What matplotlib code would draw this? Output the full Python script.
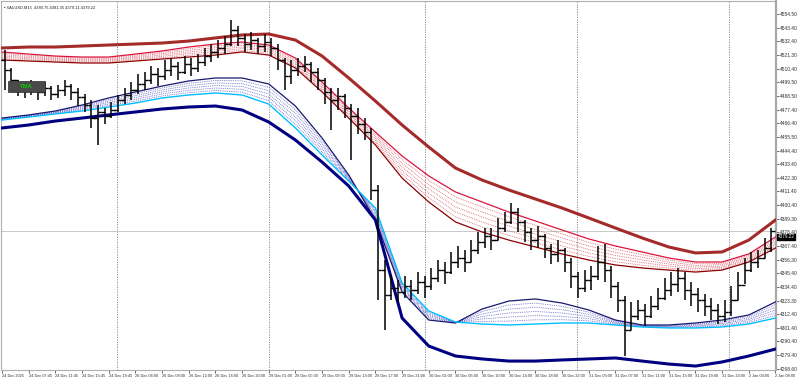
import matplotlib
matplotlib.use("Agg")
import matplotlib.pyplot as plt
import matplotlib.transforms as mtrans
from matplotlib.patches import Rectangle

title = "XAUUSD,M15  4380.75 4381.35 4379.11 4379.22"
last_price = 4379.22

# hourly bars (open = previous close)
first_open = 4517.4
closes = [4509.3, 4501.3, 4494.8, 4493.2, 4496.4, 4491.6, 4494.8, 4490.0, 4493.2, 4496.4,
          4491.6, 4487.6, 4481.1, 4470.6, 4475.5, 4472.2, 4477.1, 4485.2, 4489.2, 4493.2,
          4498.1, 4501.3, 4506.1, 4504.5, 4509.3, 4512.6, 4507.7, 4514.2, 4511.0, 4515.8,
          4520.6, 4523.9, 4527.1, 4530.3, 4541.6, 4535.2, 4530.3, 4533.5, 4528.7, 4531.9,
          4527.1, 4517.4, 4504.5, 4509.3, 4512.6, 4514.2, 4507.7, 4501.3, 4491.6, 4485.2,
          4488.4, 4478.7, 4472.2, 4465.8, 4459.3, 4412.6, 4348.0, 4327.9, 4333.5, 4330.3,
          4335.1, 4331.9, 4338.4, 4335.1, 4341.6, 4348.0, 4346.4, 4354.5, 4357.7, 4354.5,
          4364.2, 4370.6, 4375.5, 4372.2, 4381.9, 4386.8, 4394.8, 4386.8, 4378.7, 4372.2,
          4375.5, 4365.8, 4361.0, 4364.2, 4354.5, 4343.2, 4333.5, 4340.0, 4343.2, 4354.5,
          4348.0, 4335.1, 4323.9, 4299.7, 4311.0, 4315.8, 4311.0, 4319.0, 4325.5, 4331.9,
          4336.8, 4341.6, 4331.9, 4328.7, 4323.9, 4319.0, 4315.8, 4311.0, 4314.2, 4323.9,
          4335.9, 4348.0, 4354.5, 4357.7, 4365.8, 4379.2]
highs = [4525.5, 4511.0, 4501.3, 4498.9, 4501.3, 4498.1, 4499.7, 4496.4, 4497.2, 4501.3,
         4498.1, 4494.8, 4490.0, 4485.2, 4481.1, 4478.7, 4483.5, 4489.2, 4494.8, 4499.7,
         4506.1, 4507.7, 4512.6, 4511.0, 4517.4, 4519.0, 4515.8, 4520.6, 4519.0, 4522.2,
         4527.1, 4530.3, 4533.5, 4536.8, 4549.7, 4544.8, 4538.4, 4540.0, 4535.2, 4538.4,
         4535.2, 4530.3, 4519.0, 4517.4, 4519.0, 4520.6, 4515.8, 4511.0, 4502.9, 4494.8,
         4494.8, 4490.0, 4481.9, 4478.7, 4470.6, 4462.6, 4416.6, 4356.1, 4344.0, 4340.0,
         4343.2, 4340.0, 4346.4, 4343.2, 4349.7, 4356.1, 4354.5, 4362.6, 4367.4, 4364.2,
         4372.2, 4378.7, 4381.9, 4381.9, 4390.0, 4394.8, 4402.1, 4398.0, 4388.4, 4381.9,
         4383.5, 4377.1, 4369.0, 4372.2, 4365.8, 4357.7, 4346.4, 4348.0, 4351.3, 4367.4,
         4369.0, 4351.3, 4338.4, 4327.1, 4322.3, 4323.9, 4320.6, 4327.1, 4333.5, 4341.6,
         4346.4, 4349.7, 4346.4, 4338.4, 4333.5, 4328.7, 4325.5, 4320.6, 4323.9, 4335.1,
         4346.4, 4357.7, 4362.6, 4364.2, 4373.9, 4382.0]
lows = [4493.2, 4494.8, 4488.4, 4486.8, 4489.2, 4485.2, 4488.4, 4485.2, 4486.8, 4488.4,
        4485.2, 4480.3, 4475.5, 4462.6, 4448.9, 4465.8, 4470.6, 4475.5, 4481.9, 4485.2,
        4490.0, 4493.2, 4498.1, 4496.4, 4501.3, 4504.5, 4501.3, 4506.1, 4504.5, 4507.7,
        4512.6, 4515.8, 4519.0, 4522.2, 4528.7, 4528.7, 4523.9, 4525.5, 4522.2, 4523.9,
        4520.6, 4509.3, 4493.2, 4498.1, 4504.5, 4507.7, 4499.7, 4493.2, 4481.9, 4461.0,
        4477.1, 4470.6, 4436.8, 4457.7, 4452.9, 4404.5, 4323.9, 4299.7, 4323.9, 4322.3,
        4325.5, 4323.9, 4328.7, 4325.5, 4331.9, 4338.4, 4336.8, 4344.8, 4349.7, 4346.4,
        4354.5, 4361.0, 4365.8, 4364.2, 4372.2, 4378.7, 4385.1, 4378.7, 4370.6, 4364.2,
        4365.8, 4357.7, 4352.9, 4354.5, 4346.4, 4333.5, 4325.5, 4330.3, 4331.9, 4340.0,
        4338.4, 4325.5, 4314.2, 4278.7, 4299.7, 4307.7, 4302.9, 4309.3, 4315.8, 4323.9,
        4327.1, 4330.3, 4323.9, 4319.0, 4314.2, 4311.0, 4307.7, 4304.5, 4306.1, 4311.0,
        4323.9, 4336.8, 4346.4, 4349.7, 4357.7, 4362.6]

# TMA band lines, sampled every 16 M15 bars
line_idx = list(range(0, 465, 16))
upper_outer = [4527.1, 4527.9, 4527.9, 4528.7, 4529.5, 4530.3, 4531.1, 4532.7, 4535.2, 4537.6,
               4538.4, 4533.5, 4520.6, 4502.9, 4484.3, 4465.0, 4447.2, 4430.3, 4420.6, 4412.6,
               4405.3, 4398.0, 4390.0, 4381.9, 4373.9, 4366.6, 4361.8, 4362.6, 4372.2, 4388.4]
upper_fast = [4523.9, 4522.2, 4520.6, 4519.8, 4519.8, 4522.2, 4524.7, 4527.9, 4530.3, 4531.9,
              4529.5, 4519.0, 4499.7, 4478.7, 4459.3, 4440.0, 4423.9, 4411.0, 4402.9, 4394.8,
              4387.6, 4380.3, 4373.1, 4367.4, 4362.6, 4357.7, 4354.5, 4354.5, 4361.0, 4374.7]
upper_slow = [4517.4, 4516.6, 4515.8, 4515.0, 4515.0, 4516.6, 4518.2, 4519.8, 4521.4, 4523.9,
              4521.4, 4511.0, 4491.6, 4470.6, 4448.9, 4422.2, 4402.9, 4386.8, 4378.7, 4372.2,
              4366.6, 4361.0, 4356.1, 4352.1, 4349.7, 4348.0, 4346.4, 4348.0, 4354.5, 4365.8]
lower_fast = [4470.6, 4473.1, 4476.3, 4481.1, 4486.8, 4491.6, 4496.4, 4500.5, 4502.9, 4502.9,
              4498.1, 4480.3, 4454.5, 4424.7, 4388.4, 4330.3, 4307.7, 4305.3, 4316.6, 4323.0,
              4324.7, 4321.4, 4315.8, 4307.7, 4303.7, 4303.7, 4305.3, 4307.7, 4311.8, 4322.3]
lower_slow = [4469.0, 4471.4, 4473.9, 4476.3, 4479.5, 4482.7, 4486.8, 4489.2, 4490.8, 4489.2,
              4481.9, 4462.6, 4440.8, 4419.8, 4398.0, 4337.6, 4315.0, 4306.1, 4304.5, 4303.7,
              4304.5, 4305.3, 4305.3, 4303.7, 4302.1, 4301.3, 4301.3, 4302.1, 4304.5, 4309.3]
lower_outer = [4462.6, 4465.0, 4468.2, 4470.6, 4473.1, 4475.5, 4477.9, 4479.5, 4480.3, 4477.1,
               4467.4, 4452.9, 4435.1, 4415.8, 4388.4, 4309.3, 4286.7, 4278.7, 4276.3, 4274.6,
               4274.6, 4275.5, 4276.3, 4277.1, 4274.6, 4272.2, 4270.6, 4273.9, 4278.7, 4284.3]
fan_levels = [1 / 6, 2 / 6, 3 / 6, 4 / 6, 5 / 6]

time_labels = ["24 Dec 2025", "24 Dec 07:45", "24 Dec 11:45", "24 Dec 15:45", "24 Dec 19:45",
               "26 Dec 04:00", "26 Dec 08:00", "26 Dec 12:00", "26 Dec 16:00", "26 Dec 20:00",
               "29 Dec 01:00", "29 Dec 05:00", "29 Dec 09:00", "29 Dec 13:00", "29 Dec 17:00",
               "29 Dec 21:00", "30 Dec 02:00", "30 Dec 06:00", "30 Dec 10:00", "30 Dec 14:00",
               "30 Dec 18:00", "30 Dec 22:00", "31 Dec 03:00", "31 Dec 07:00", "31 Dec 11:00",
               "31 Dec 15:00", "31 Dec 19:00", "31 Dec 23:00", "2 Jan 04:00", "2 Jan 08:00"]
price_ticks = [4554.50, 4543.40, 4532.40, 4521.30, 4510.40, 4499.50, 4488.50, 4477.40, 4466.40,
               4455.50, 4444.40, 4433.40, 4422.30, 4411.40, 4400.40, 4389.30, 4378.40, 4367.40,
               4356.30, 4345.40, 4334.40, 4323.30, 4312.40, 4301.40, 4290.40, 4279.40, 4268.60]
day_breaks = [69, 160, 254, 345, 436]

plt.rcParams['font.family'] = ['Liberation Sans', 'DejaVu Sans']

fig = plt.figure(figsize=(8, 3.82), dpi=100)
ax = fig.add_axes([1 / 800, 12 / 382, 775 / 800, 369 / 382])
ax.set_xlim(-0.6, 464.3)
ax.set_ylim(4267.4, 4565.0)

# separators and bid line
for d in day_breaks:
    ax.axvline(d, color="#808080", lw=0.6, ls=(0, (1.5, 1.5)), zorder=1)
ax.axhline(last_price, color="#c8c8c8", lw=0.7, zorder=1)

# fans between the fast/slow band lines
for f in fan_levels:
    ax.plot(line_idx, [a + (b - a) * f for a, b in zip(upper_fast, upper_slow)],
            color="#d23040", lw=0.6, ls=(0, (1, 1.2)), alpha=0.8, zorder=2)
    ax.plot(line_idx, [a + (b - a) * f for a, b in zip(lower_fast, lower_slow)],
            color="#3a3ab8", lw=0.6, ls=(0, (1, 1.2)), alpha=0.8, zorder=2)

ax.plot(line_idx, upper_fast, color="#dc143c", lw=0.9, zorder=3)
ax.plot(line_idx, upper_slow, color="#8b0000", lw=0.9, zorder=3)
ax.plot(line_idx, lower_fast, color="#191970", lw=0.9, zorder=3)
ax.plot(line_idx, lower_slow, color="#00bfff", lw=1.0, zorder=3)
ax.plot(line_idx, upper_outer, color="#a52a2a", lw=2.2, zorder=4)
ax.plot(line_idx, lower_outer, color="#000080", lw=2.2, zorder=4)

# price bars
opens = [first_open] + closes[:-1]
xs = [4 * h + 1.5 for h in range(len(closes))]
ax.vlines(xs, lows, highs, color="black", lw=1.1, zorder=5)
ax.hlines(opens, [x - 2.1 for x in xs], xs, color="black", lw=1.0, zorder=5)
ax.hlines(closes, xs, [x + 2.1 for x in xs], color="black", lw=1.0, zorder=5)

# axes styling
for side in ["top", "left", "bottom"]:
    ax.spines[side].set_color("#b0b0b0")
    ax.spines[side].set_linewidth(0.8)
ax.spines["right"].set_color("#a8a8a8")
ax.spines["right"].set_linewidth(1.6)

ax.yaxis.tick_right()
ax.set_yticks(price_ticks)
ax.set_yticklabels([f"{p:.2f}" for p in price_ticks])
ax.tick_params(axis="y", length=2, width=0.5, pad=1, labelsize=3.5, colors="#303030")
ax.set_xticks(line_idx)
ax.set_xticklabels(time_labels)
ax.tick_params(axis="x", length=2, width=0.5, pad=1, labelsize=2.8, colors="#303030")
for lbl in ax.get_xticklabels():
    lbl.set_ha("left")

ax.text(0.004, 0.988, "\u25aa " + title, transform=ax.transAxes, fontsize=2.9,
        va="top", ha="left", color="#202020")
ax.add_patch(Rectangle((0.009, 0.753), 0.048, 0.030, transform=ax.transAxes,
                       fc="#4a4a4a", ec="#2a2a2a", lw=0.5, zorder=6))
ax.text(0.033, 0.768, "TMA", transform=ax.transAxes, fontsize=4.2, color="#00d000",
        fontweight="bold", va="center", ha="center", zorder=7)

trans = mtrans.blended_transform_factory(ax.transAxes, ax.transData)
ax.text(1.002, last_price - 4.5, f"{last_price:.2f}", transform=trans, fontsize=3.3,
        color="white", va="center", ha="left", zorder=8,
        bbox=dict(boxstyle="square,pad=0.2", fc="black", ec="black"))

fig.savefig("out.png", dpi=100, facecolor="white")
